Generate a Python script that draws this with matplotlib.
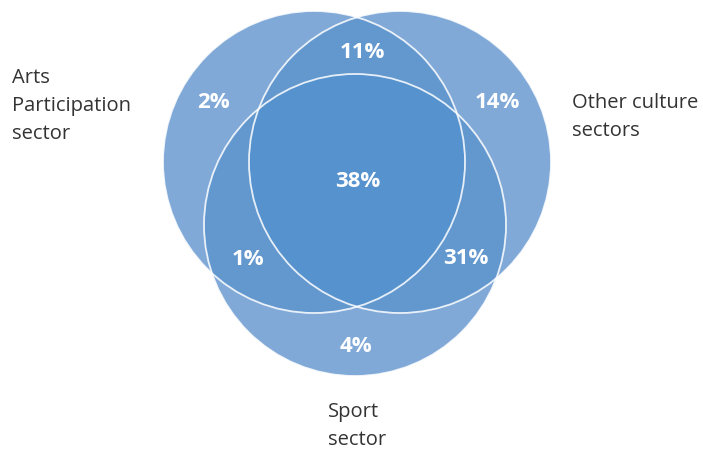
import numpy as np
import matplotlib.pyplot as plt
from matplotlib.patches import Circle, Polygon

# =========================
# Data
# =========================
set_names = ["Arts\nParticipation\nsector", "Other culture\nsectors", "Sport\nsector"]
region_labels = ["2%", "11%", "14%", "38%", "1%", "31%", "4%"]
# where each % sits (pixel coords, y down)
region_pos = [(213, 103), (362, 53), (497, 103), (358, 182), (248, 260), (466, 259), (356, 347)]

# circles: centre x, centre y, radius (pixels)
centres = [(314, 163), (400, 163), (355, 226)]
radius = 151

name_pos = [(12, 106), (572, 117), (328, 426)]

col_single = "#80a9d8"
col_double = "#6398cf"
col_triple = "#5592ce"

plt.rcParams['font.family'] = ['Open Sans', 'DejaVu Sans']


def lens(c1, c2, r, n=200):
    # polygon of intersection of two equal circles
    c1 = np.array(c1, float)
    c2 = np.array(c2, float)
    d = np.linalg.norm(c2 - c1)
    phi = np.arctan2(c2[1] - c1[1], c2[0] - c1[0])
    alpha = np.arccos(d / 2 / r)
    t1 = np.linspace(phi - alpha, phi + alpha, n)
    t2 = np.linspace(phi + np.pi - alpha, phi + np.pi + alpha, n)
    p1 = np.column_stack([c1[0] + r * np.cos(t1), c1[1] + r * np.sin(t1)])
    p2 = np.column_stack([c2[0] + r * np.cos(t2), c2[1] + r * np.sin(t2)])
    return np.vstack([p1, p2])


fig = plt.figure(figsize=(7.03, 4.52), dpi=100)
ax = fig.add_axes([0, 0, 1, 1])
ax.set_xlim(0, 703)
ax.set_ylim(452, 0)
ax.axis("off")

# single circles
for c in centres:
    ax.add_patch(Circle(c, radius, color=col_single, lw=0))

# pairwise overlaps
for i in range(3):
    for j in range(i + 1, 3):
        ax.add_patch(Polygon(lens(centres[i], centres[j], radius), closed=True,
                             color=col_double, lw=0))

# triple overlap: circle 3 clipped to lens of 1 & 2
lens12 = Polygon(lens(centres[0], centres[1], radius), closed=True,
                 transform=ax.transData, fill=False, lw=0)
ax.add_patch(lens12)
tri = Circle(centres[2], radius, color=col_triple, lw=0)
ax.add_patch(tri)
tri.set_clip_path(lens12)

# white outlines
for c in centres:
    ax.add_patch(Circle(c, radius, fill=False, ec="white", lw=1.3, alpha=0.85))

for txt, (x, y) in zip(region_labels, region_pos):
    ax.text(x, y, txt, color="white", fontsize=16, fontweight="bold",
            ha="center", va="center")

for txt, (x, y) in zip(set_names, name_pos):
    ax.text(x, y, txt, color="#333333", fontsize=14.5, ha="left", va="center",
            linespacing=1.55)

plt.savefig("out.png", dpi=100)
